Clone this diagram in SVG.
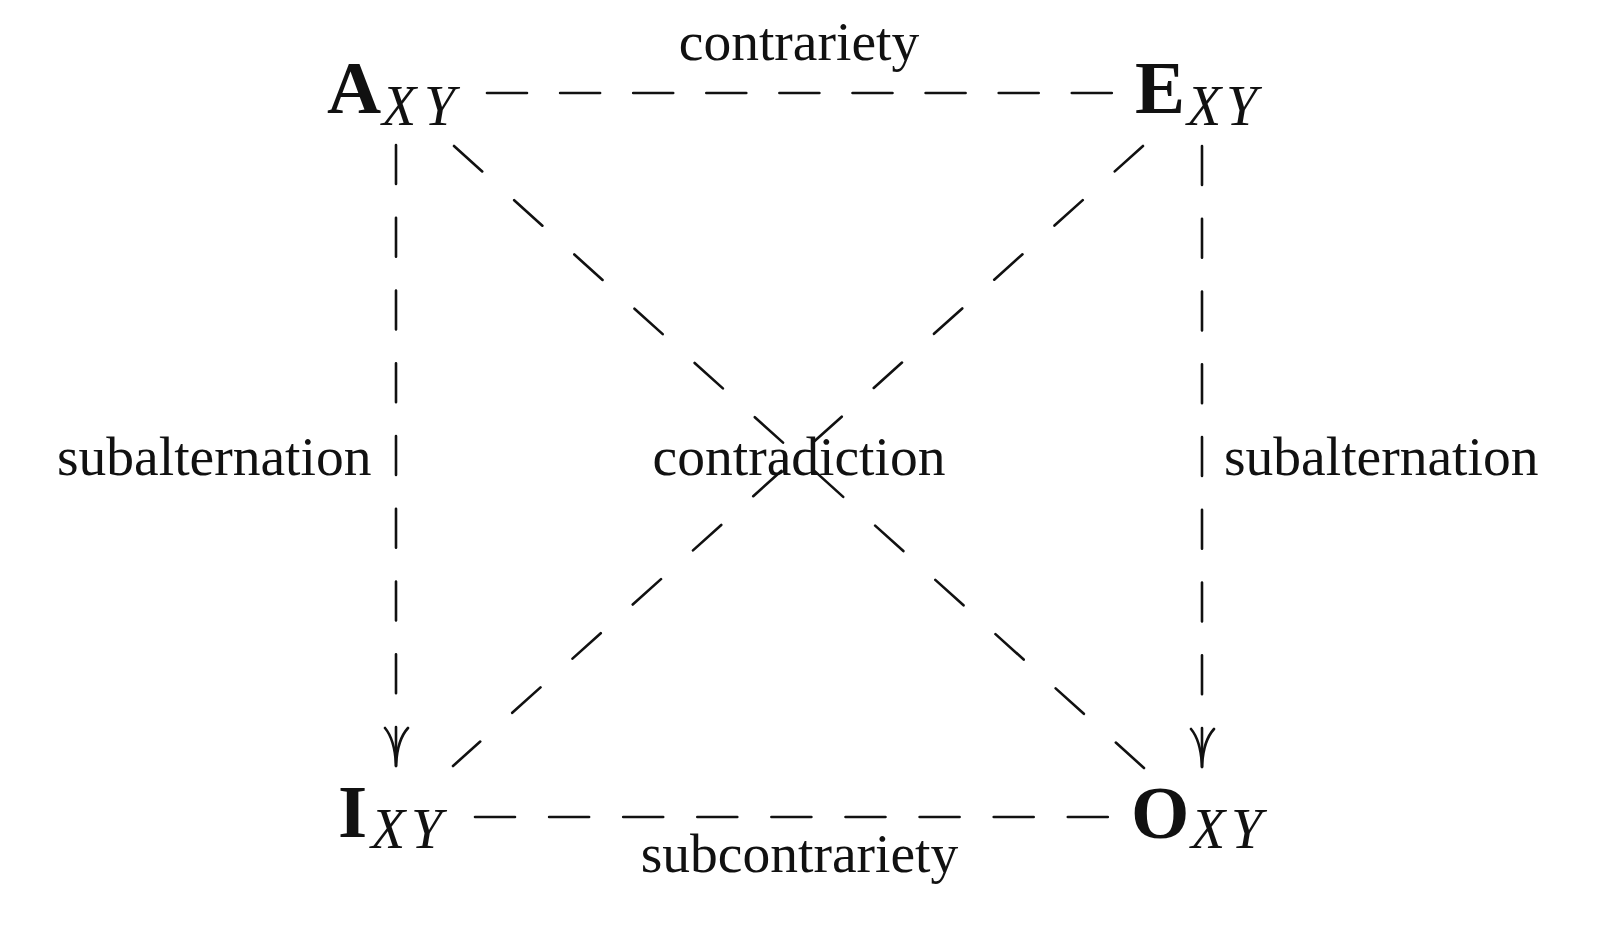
<svg xmlns="http://www.w3.org/2000/svg" width="1600" height="928" viewBox="0 0 1600 928">
<style>
.big{font-family:"Liberation Serif","Times New Roman",serif;font-weight:bold;font-size:75px;fill:#111}
.sub{font-family:"Liberation Serif","Times New Roman",serif;font-style:italic;font-size:56px;fill:#111}
.lbl{font-family:"Liberation Serif","Times New Roman",serif;font-size:55.5px;fill:#111}
.c{fill:none;stroke:#111;stroke-width:2.6;stroke-linecap:round}
.h{stroke-dasharray:40 33.1}
.hb{stroke-dasharray:40 34.1}
.v{stroke-dasharray:39 33.75}
.d{stroke-dasharray:38 43}
</style>
<rect width="1600" height="928" fill="#fff"/>
<g id="node-A"><text class="big" x="327" y="113">A</text><text class="sub" y="125"><tspan x="382">X</tspan><tspan x="424">Y</tspan></text></g>
<g id="node-E"><text class="big" x="1135" y="113">E</text><text class="sub" y="125"><tspan x="1187">X</tspan><tspan x="1226">Y</tspan></text></g>
<g id="node-I"><text class="big" x="338" y="837">I</text><text class="sub" y="848"><tspan x="371">X</tspan><tspan x="411">Y</tspan></text></g>
<g id="node-O"><text class="big" x="1131" y="838">O</text><text class="sub" y="848"><tspan x="1191">X</tspan><tspan x="1231">Y</tspan></text></g>
<g id="connectors">
<line class="c h" x1="487" y1="93" x2="1112" y2="93"/>
<line class="c hb" x1="475" y1="817" x2="1108" y2="817"/>
<line class="c v" x1="396" y1="145" x2="396" y2="766"/>
<path class="c" d="M385,728 Q395,740 396,766 M408,728 Q397,740 396,766"/>
<line class="c v" x1="1202" y1="146" x2="1202" y2="767"/>
<path class="c" d="M1191,729 Q1201,741 1202,767 M1214,729 Q1203,741 1202,767"/>
<line class="c d" x1="454" y1="146" x2="1144" y2="768"/>
<line class="c d" x1="1143" y1="146" x2="453" y2="766"/>
</g>
<g id="labels">
<text class="lbl" x="799" y="60" text-anchor="middle">contrariety</text>
<text class="lbl" x="57" y="475">subalternation</text>
<text class="lbl" x="1224" y="475">subalternation</text>
<text class="lbl" x="799" y="475" text-anchor="middle">contradiction</text>
<text class="lbl" x="799.5" y="872" text-anchor="middle">subcontrariety</text>
</g>
</svg>
